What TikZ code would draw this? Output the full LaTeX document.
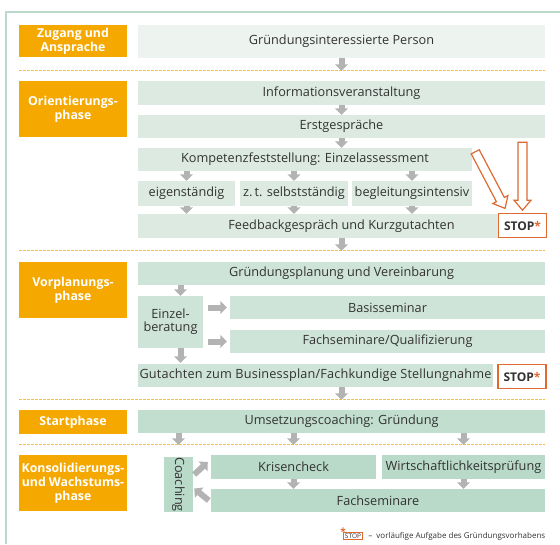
\documentclass[tikz,border=0pt]{standalone}
\usepackage{fontspec}
\setmainfont{Open Sans}
\newfontfamily\weitfont[LetterSpace=1.3]{Open Sans}
\usetikzlibrary{arrows.meta,positioning}

\definecolor{phasenorange}{HTML}{F5A800}
\definecolor{feldA}{HTML}{EDF3EF}
\definecolor{feldB}{HTML}{DCEAE1}
\definecolor{feldC}{HTML}{CFE4D8}
\definecolor{feldD}{HTML}{C1DECF}
\definecolor{feldE}{HTML}{B9D9C9}
\definecolor{pfeilgrau}{HTML}{B3B3B3}
\definecolor{textgrau}{HTML}{333333}
\definecolor{stoprot}{HTML}{DE6A32}
\definecolor{trennlinie}{HTML}{F2C04C}
\definecolor{rahmengruen}{HTML}{BBDACB}

\tikzset{
  phase/.style={fill=phasenorange, text=white, align=center, inner sep=0pt,
    minimum width=108pt, font=\bfseries\fontsize{12.3}{14}\selectfont},
  feld/.style={fill=#1, text=textgrau, align=center, inner sep=0pt,
    minimum height=23pt, font=\fontsize{12.7}{13}\selectfont},
  feld/.default=feldB,
  stopbox/.style={draw=stoprot, line width=1.5pt, fill=white, text=textgrau,
    minimum width=48pt, minimum height=24pt, inner sep=0pt,
    font=\bfseries\fontsize{12}{14}\selectfont},
  pfeil/.style={color=pfeilgrau, line width=6pt,
    -{Triangle[width=13pt,length=6.5pt]}},
  trenner/.style={draw=trennlinie, line width=0.8pt, dash pattern=on 2.5pt off 1.5pt},
  rahmen/.style={draw=rahmengruen, line width=1.5pt}
}

% hohler Pfeil: Start, Winkel, Laenge
\newcommand{\hohlpfeil}[3]{%
  \draw[stoprot, line width=1.2pt, fill=white, line join=miter, shift={#1}, rotate=#2]
    (0,4.5) -- (#3-10,4.5) -- (#3-10,8.5) -- (#3,0) -- (#3-10,-8.5)
    -- (#3-10,-4.5) -- (0,-4.5) -- cycle;
}

\begin{document}
\begin{tikzpicture}[x=1pt, y=-1pt]
  \useasboundingbox (0,0) rectangle (560,544);
  \draw[rahmen] (560,12) -- (6,12) -- (6,544);

  % Zugang und Ansprache
  \node[phase, minimum height=32pt] (zugang) at (73,41) {Zugang und\\Ansprache};
  \node[feld=feldA, minimum width=407pt, minimum height=33pt] (person) at (341.5,41.5) {Gründungsinteressierte Person};
  \draw[trenner] (19,70) -- (545,70);

  % Orientierungsphase
  \node[phase, minimum height=56pt] (orient) at (73,109) {Orientierungs-\\phase};
  \node[feld, minimum width=407pt, minimum height=24pt] (info) at (341.5,93) {Informationsveranstaltung};
  \node[feld, minimum width=407pt] (erst) at (341.5,126.5) {Erstgespräche};
  \node[feld, minimum width=334pt] (kompetenz) at (305,159.5) {Kompetenzfeststellung: Einzelassessment};
  \node[feld, minimum width=97pt, minimum height=25pt] (eigen) at (186.5,193.5) {eigenständig};
  \node[feld, minimum width=108pt, minimum height=25pt] (selbst) at (294,193.5) {z.\,t. selbstständig};
  \node[feld, minimum width=120pt, minimum height=25pt] (begleit) at (412,193.5) {begleitungsintensiv};
  \node[feld, minimum width=407pt, minimum height=24pt] (feedback) at (341.5,226) {Feedbackgespräch und Kurzgutachten};
  \node[stopbox] (stopA) at (522.5,225.5) {STOP\textcolor{stoprot}{*}};
  \draw[trenner] (19,250) -- (545,250);

  % Vorplanungsphase
  \node[phase, minimum height=56pt] (vorplan) at (73,290) {Vorplanungs-\\phase};
  \node[feld=feldC, minimum width=407pt] (planung) at (341.5,273.5) {Gründungsplanung und Vereinbarung};
  \node[feld=feldC, minimum width=65pt, minimum height=52pt] (einzel) at (170.5,322) {Einzel-\\beratung};
  \node[feld=feldC, minimum width=315pt] (basis) at (387.5,307.5) {Basisseminar};
  \node[feld=feldC, minimum width=315pt] (fachsem) at (387.5,341.5) {Fachseminare/Qualifizierung};
  \node[feld=feldC, minimum width=355pt] (gutachten) at (315.5,375.5) {\weitfont Gutachten zum Businessplan/Fachkundige Stellungnahme};
  \node[stopbox] (stopB) at (522,376.5) {STOP\textcolor{stoprot}{*}};
  \draw[trenner] (19,399) -- (545,399);

  % Startphase
  \node[phase, minimum height=24pt] (start) at (73,422) {Startphase};
  \node[feld=feldD, minimum width=407pt] (umsetzung) at (341.5,421.5) {Umsetzungscoaching: Gründung};
  \draw[trenner] (19,444) -- (545,444);

  % Konsolidierungs- und Wachstumsphase
  \node[phase, minimum height=56pt] (konsol) at (73,483) {Konsolidierungs-\\und Wachstums-\\phase};
  \node[feld=feldE, minimum width=29pt, minimum height=55pt,
    label={[rotate=-90, text=textgrau, font=\fontsize{12.7}{13}\selectfont]center:Coaching}] (coaching) at (178.5,484.5) {};
  \node[feld=feldE, minimum width=165pt, minimum height=24pt] (krisen) at (293.5,467) {Krisencheck};
  \node[feld=feldE, minimum width=163pt, minimum height=24pt] (wirtschaft) at (463.5,467) {Wirtschaftlichkeitsprüfung};
  \node[feld=feldE, minimum width=334pt] (fachsemB) at (378,500.5) {Fachseminare};

  % Legende
  \node[draw=stoprot, line width=0.8pt, text=textgrau, inner sep=1.5pt,
    font=\fontsize{6.5}{7}\selectfont] (legstop) at (353,536) {STOP};
  \node[text=stoprot, font=\bfseries\fontsize{10}{10}\selectfont] at (legstop.north west) {*};
  \node[text=textgrau, font=\fontsize{8}{9}\selectfont, right=2pt of legstop] (legtext)
    {–\enspace vorläufige Aufgabe des Gründungsvorhabens};

  % graue Pfeile
  \path[pfeil]
    (person) edge[shorten >=10pt] (info)
    (info) edge (erst)
    (erst.south) edge (erst.south |- kompetenz.north)
    (kompetenz.south -| eigen) edge (eigen)
    (kompetenz.south -| selbst) edge (selbst)
    (kompetenz.south -| begleit) edge (begleit)
    (eigen) edge (eigen |- feedback.north)
    (selbst) edge (selbst |- feedback.north)
    (begleit) edge (begleit |- feedback.north)
    (feedback) edge[shorten >=11pt] (planung)
    ([xshift=10pt]einzel.north |- planung.south) edge ([xshift=10pt]einzel.north)
    (einzel.east |- basis) edge[shorten <=5pt, shorten >=3pt] (basis)
    (einzel.east |- fachsem) edge[shorten <=5pt, shorten >=3pt] (fachsem)
    ([xshift=10pt]einzel.south) edge[shorten >=1pt] ([xshift=10pt]einzel.south |- gutachten.north)
    (gutachten.south -| umsetzung) edge[shorten >=10pt] (umsetzung)
    (umsetzung.south -| coaching) edge[shorten >=12pt] (coaching)
    (umsetzung.south -| krisen) edge[shorten >=10pt] (krisen)
    (umsetzung.south -| wirtschaft) edge[shorten >=10pt] (wirtschaft)
    (krisen) edge (krisen |- fachsemB.north)
    (wirtschaft) edge (wirtschaft |- fachsemB.north)
    ([xshift=1pt,yshift=10pt]coaching.east) edge ([xshift=-3pt,yshift=5pt]krisen.west)
    ([xshift=-2pt]fachsemB.west) edge ([xshift=1pt,yshift=-4pt]coaching.east);

  % Abbruch-Pfeile zu STOP
  \hohlpfeil{([xshift=3pt,yshift=-4pt]kompetenz.north east)}{-62.2}{64}
  \hohlpfeil{([yshift=-4pt]erst.south -| stopA.north)}{-90}{68}
\end{tikzpicture}
\end{document}
